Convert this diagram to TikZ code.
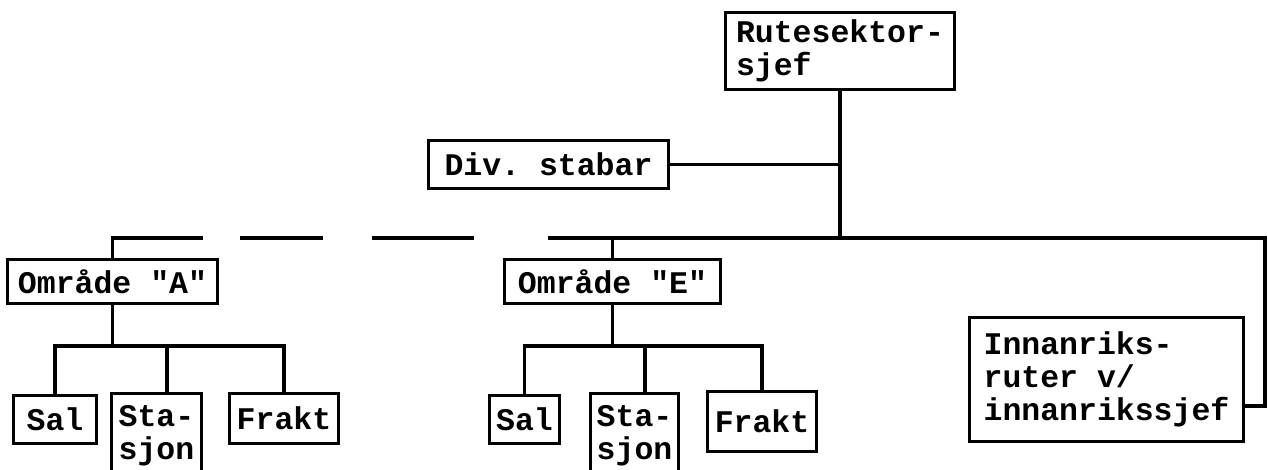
\documentclass[tikz,border=0pt]{standalone}
\usepackage{fontspec}
\setmonofont{Liberation Mono}
\begin{document}
\begin{tikzpicture}[x=1pt,y=-1pt,
  box/.style={draw, line width=3pt, font=\fontsize{31.5}{33}\selectfont\ttfamily\bfseries, align=left, inner sep=0pt, anchor=north west},
  conn/.style={line width=3.2pt}]
\useasboundingbox (0,0) rectangle (1268,470);
% boxes
\node[box, minimum width=229pt, minimum height=77pt] (rut) at (724,11) {Rutesektor-\\sjef};
\node[box, minimum width=240pt, minimum height=48pt] (div) at (427,139) {Div. stabar};
\node[box, minimum width=210pt, minimum height=44pt] (oA) at (6,258) {Område "A"};
\node[box, minimum width=216pt, minimum height=44pt] (oE) at (503,258) {Område "E"};
\node[box, minimum width=274pt, minimum height=124pt] (inn) at (968,316) {Innanriks-\\ruter v/\\innanrikssjef};
\node[box, minimum width=83pt, minimum height=48pt] (salA) at (12,394) {Sal};
\node[box, minimum width=90pt, minimum height=84pt] (staA) at (110,392) {Sta-\\sjon};
\node[box, minimum width=109pt, minimum height=50pt] (frA) at (228,392) {Frakt};
\node[box, minimum width=70pt, minimum height=48pt] (salE) at (488,394) {Sal};
\node[box, minimum width=88pt, minimum height=84pt] (staE) at (589,392) {Sta-\\sjon};
\node[box, minimum width=109pt, minimum height=60pt] (frE) at (706,390) {Frakt};
% helper coordinates
\coordinate (busy) at (0,238);
\coordinate (subAy) at (0,346);
\coordinate (subEy) at (0,346);
\coordinate (busR) at (1265,238);
\coordinate (hooky) at (0,406);
\coordinate (mA) at (167,346);
\coordinate (mE) at (645,346);
% connectors
\draw[conn] (rut.south) -- (rut.south |- busy);
\draw[conn] (div.east) -- (div.east -| rut.south);
\draw[conn, dash pattern=on 110pt off 37pt on 83pt off 49pt on 102pt off 74pt on 3000pt]
  (oA.north) -- (oA.north |- busy) -- (busR) -- (busR |- hooky) -- (inn.east |- hooky);
\draw[conn] (oE.north) -- (oE.north |- busy);
% group A
\draw[conn] (oA.south) -- (oA.south |- subAy);
\draw[conn] (salA.north) -- (salA.north |- subAy) -- (frA.north |- subAy) -- (frA.north);
\draw[conn] (mA) -- (mA |- staA.north);
% group E
\draw[conn] (oE.south) -- (oE.south |- subEy);
\draw[conn] (salE.north) -- (salE.north |- subEy) -- (frE.north |- subEy) -- (frE.north);
\draw[conn] (mE) -- (mE |- staE.north);
\end{tikzpicture}
\end{document}
